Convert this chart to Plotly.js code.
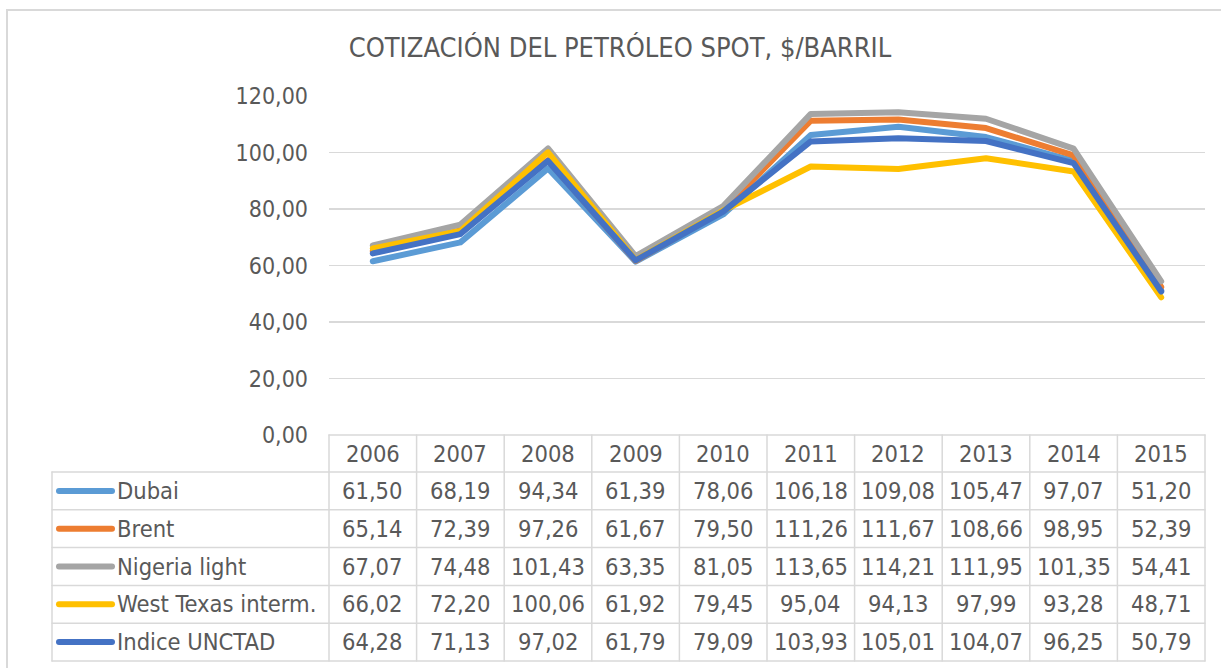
<!DOCTYPE html>
<html>
<head>
<meta charset="utf-8">
<script src="https://cdn.plot.ly/plotly-3.0.1.min.js"></script>
<style>
html,body{margin:0;padding:0;background:#fff;}
#chart{width:1221px;height:668px;}
.scatterlayer .js-line{stroke-linejoin:round;stroke-linecap:round;}
.shapelayer path{stroke-linecap:round;}
</style>
</head>
<body>
<div id="chart"></div>
<script>
// ---- data ----
const years = ['2006','2007','2008','2009','2010','2011','2012','2013','2014','2015'];
const seriesNames = ['Dubai','Brent','Nigeria light','West Texas interm.','Indice UNCTAD'];
const dubai    = [61.50, 68.19, 94.34, 61.39, 78.06, 106.18, 109.08, 105.47, 97.07, 51.20];
const brent    = [65.14, 72.39, 97.26, 61.67, 79.50, 111.26, 111.67, 108.66, 98.95, 52.39];
const nigeria  = [67.07, 74.48, 101.43, 63.35, 81.05, 113.65, 114.21, 111.95, 101.35, 54.41];
const wti      = [66.02, 72.20, 100.06, 61.92, 79.45, 95.04, 94.13, 97.99, 93.28, 48.71];
const unctad   = [64.28, 71.13, 97.02, 61.79, 79.09, 103.93, 105.01, 104.07, 96.25, 50.79];
const seriesValues = [dubai, brent, nigeria, wti, unctad];
const colors = ['#5B9BD5','#ED7D31','#A5A5A5','#FFC000','#4472C4'];

// ---- geometry (pixels) ----
const W = 1221, H = 668;
const plotL = 329, plotR = 1205, plotT = 96, plotB = 435;
const pw = plotR - plotL, ph = plotB - plotT;
const headerH = 37, rowH = 37.8;
const tableLeft = 52;
const FONT = '"DejaVu Sans Condensed", "DejaVu Sans", sans-serif';
const TXT = '#595959';
const LINE = '#D9D9D9';
const FS = 23.5;

const px2x = p => (p - plotL) / pw;
const py2y = p => (plotB - p) / ph;
const colX = c => (c + 0.5) / years.length;   // paper x of column centre
const fmt = v => v.toFixed(2).replace('.', ',');

const traces = seriesValues.map((vals, i) => ({
  type: 'scatter', mode: 'lines', x: years, y: vals, name: seriesNames[i],
  line: {color: colors[i], width: 6}, showlegend: false, hoverinfo: 'x+y+name'
}));

const shapes = [];
const annotations = [];
const rowTop = r => plotB + headerH + r * rowH;
const nRows = seriesNames.length;
const tableBottom = rowTop(nRows);

shapes.push({type:'line', xref:'paper', yref:'paper', x0:0, x1:1, y0:py2y(plotB), y1:py2y(plotB), line:{color:LINE, width:1.5}});
for (let r = 0; r <= nRows; r++) {
  const y = py2y(rowTop(r));
  shapes.push({type:'line', xref:'paper', yref:'paper', x0:px2x(tableLeft), x1:1, y0:y, y1:y, line:{color:LINE, width:1.5}});
}
for (let c = 0; c <= years.length; c++) {
  const x = c / years.length;
  shapes.push({type:'line', xref:'paper', yref:'paper', x0:x, x1:x, y0:py2y(plotB), y1:py2y(tableBottom), line:{color:LINE, width:1.5}});
}
shapes.push({type:'line', xref:'paper', yref:'paper', x0:px2x(tableLeft), x1:px2x(tableLeft), y0:py2y(rowTop(0)), y1:py2y(tableBottom), line:{color:LINE, width:1.5}});
shapes.push({type:'rect', xref:'paper', yref:'paper', x0:px2x(7), x1:px2x(1230), y0:py2y(10), y1:py2y(680), line:{color:LINE, width:2}, fillcolor:'rgba(0,0,0,0)'});

years.forEach((yr, c) => {
  annotations.push({xref:'paper', yref:'paper', x:colX(c), y:py2y(plotB + headerH/2), text:yr, showarrow:false,
    xanchor:'center', yanchor:'middle', font:{family:FONT, size:FS, color:TXT}});
});
seriesNames.forEach((nm, r) => {
  const cy = py2y(rowTop(r) + rowH/2);
  shapes.push({type:'line', xref:'paper', yref:'paper', x0:px2x(59), x1:px2x(112), y0:cy, y1:cy, line:{color:colors[r], width:6}});
  annotations.push({xref:'paper', yref:'paper', x:px2x(115), y:cy, text:nm, showarrow:false,
    xanchor:'left', yanchor:'middle', font:{family:FONT, size:FS, color:TXT}});
  seriesValues[r].forEach((v, c) => {
    annotations.push({xref:'paper', yref:'paper', x:colX(c), y:cy, text:fmt(v), showarrow:false,
      xanchor:'center', yanchor:'middle', font:{family:FONT, size:FS, color:TXT}});
  });
});

const layout = {
  width: W, height: H,
  margin: {l: plotL, r: W - plotR, t: plotT, b: H - plotB, pad: 0},
  paper_bgcolor: '#fff', plot_bgcolor: '#fff',
  separators: ',.',
  title: {text: 'COTIZACIÓN DEL PETRÓLEO SPOT, $/BARRIL', xref:'container', yref:'container',
    x: 620 / W, y: 1 - 48 / H, xanchor:'center', yanchor:'middle',
    font: {family: FONT, size: 27, color: TXT}},
  xaxis: {type:'category', range:[-0.5, years.length - 0.5], showticklabels:false, showgrid:false,
    zeroline:false, showline:false, ticks:'', fixedrange:true},
  yaxis: {range:[0, 120], dtick:20, tick0:0, tickformat:'.2f', showgrid:true, gridcolor:LINE, gridwidth:1.5,
    zeroline:false, showline:false, ticks:'', ticklabelstandoff:20,
    tickfont:{family:FONT, size:23, color:TXT}, fixedrange:true},
  shapes: shapes,
  annotations: annotations,
  showlegend: false
};

Plotly.newPlot('chart', traces, layout, {displayModeBar:false, staticPlot:true});
</script>
</body>
</html>
